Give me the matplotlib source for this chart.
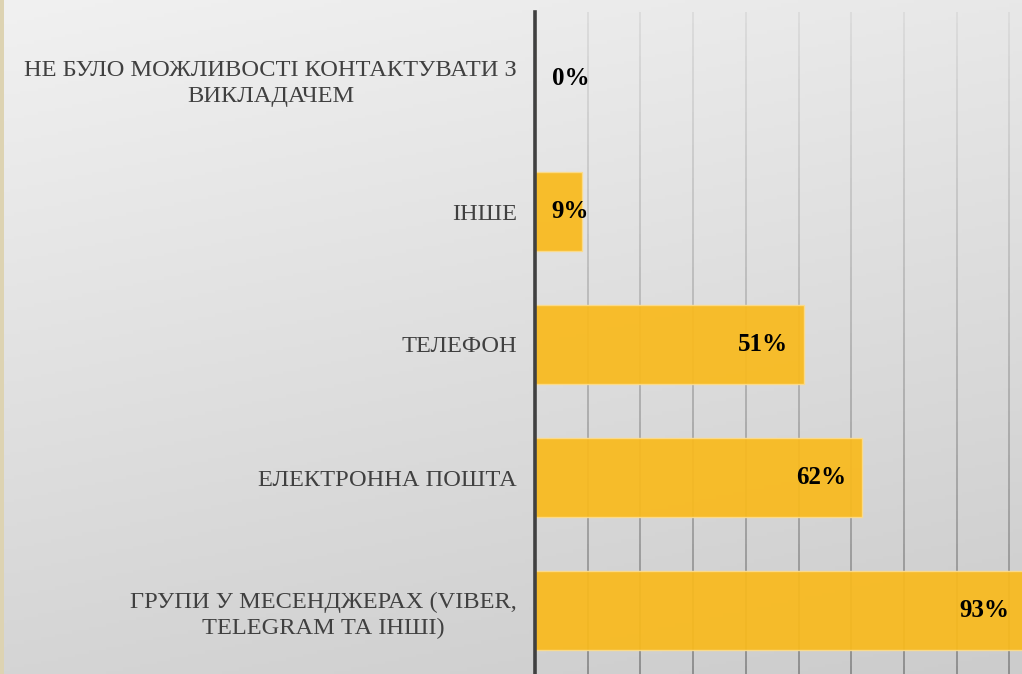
import numpy as np
import matplotlib
matplotlib.use("Agg")
from matplotlib import pyplot as plt
from matplotlib.collections import LineCollection
from matplotlib.patches import Rectangle

# categories (top to bottom) and shares in %
categories = ["НЕ БУЛО МОЖЛИВОСТІ КОНТАКТУВАТИ З\nВИКЛАДАЧЕМ",
              "ІНШЕ",
              "ТЕЛЕФОН",
              "ЕЛЕКТРОННА ПОШТА",
              "ГРУПИ У МЕСЕНДЖЕРАХ (VIBER,\nTELEGRAM ТА ІНШІ)"]
values = [0, 9, 51, 62, 93]
value_labels = ["0%", "9%", "51%", "62%", "93%"]

W, H = 1022, 674
fig = plt.figure(figsize=(W / 100, H / 100), dpi=100)

# background gradient (light top-left, darker bottom-right)
bg = fig.add_axes([0, 0, 1, 1], zorder=-10)
yy, xx = np.mgrid[0:1:200j, 0:1:300j]
shade = 0.945 - 0.11 * yy - 0.035 * xx
bg.imshow(np.dstack([shade, shade, shade]), aspect="auto", extent=[0, 1, 0, 1], origin="upper")
bg.set_axis_off()
# beige strip on the left edge
fig.patches.append(Rectangle((0, 0), 4 / W, 1, transform=fig.transFigure,
                             facecolor="#ddd3b2", edgecolor="none", zorder=-5))

ax = fig.add_axes([535 / W, -3 / H, 527 / W, 665 / H])
ax.set_facecolor("none")
y = np.arange(len(categories))

# bars slightly see-through so the gridlines show faintly
ax.barh(y, values, height=0.6, color="#f9ba1d", edgecolor="#fcdc8c",
        linewidth=1.0, zorder=2, alpha=0.93)

ax.set_xlim(0, 100)
ax.set_ylim(len(categories) - 0.5, -0.5)

# vertical gridlines, fading from light at top to darker at bottom
segs, cols = [], []
n = 60
edges = np.linspace(-0.5, len(categories) - 0.5, n + 1)
for gx in np.arange(10, 101, 10):
    for i in range(n):
        segs.append([(gx, edges[i]), (gx, edges[i + 1])])
        t = (i + 0.5) / n
        c = 0.86 - 0.32 * t
        cols.append((c, c, c, 1.0))
ax.add_collection(LineCollection(segs, colors=cols, linewidths=1.3, zorder=1))

for s in ["top", "right", "bottom"]:
    ax.spines[s].set_visible(False)
ax.spines["left"].set_color("#404040")
ax.spines["left"].set_linewidth(2.6)
ax.spines["left"].set_zorder(4)

ax.set_xticks([])
ax.set_yticks(y)
ax.set_yticklabels(categories, fontfamily="Liberation Serif", fontsize=17.6, color="#404040")
for lab in ax.get_yticklabels():
    lab.set_multialignment("center")
    lab.set_linespacing(1.3)
ax.tick_params(axis="y", length=0, pad=13)

for yi, v, txt in zip(y, values, value_labels):
    if v < 15:
        ax.annotate(txt, (0, yi), xytext=(12, 0), textcoords="offset points",
                    ha="left", va="center", fontsize=18, fontweight="bold",
                    fontfamily="Liberation Serif", color="black", zorder=5)
    else:
        ax.annotate(txt, (v, yi), xytext=(-11, 0), textcoords="offset points",
                    ha="right", va="center", fontsize=18, fontweight="bold",
                    fontfamily="Liberation Serif", color="black", zorder=5)

fig.savefig("out.png", dpi=100)
